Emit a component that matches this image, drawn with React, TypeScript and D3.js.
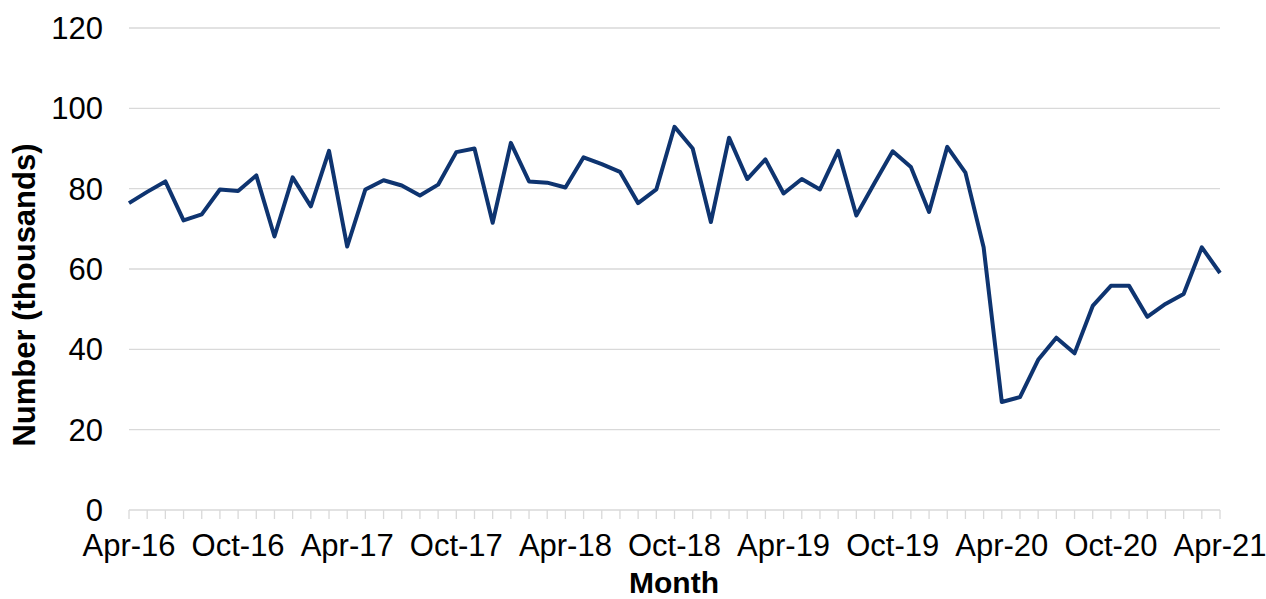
import React, { useRef, useEffect } from 'react';
import * as d3 from 'd3';

// monthly values, thousands (Apr-16 .. Apr-21)
const values = [
  76.4, 79.2, 81.8, 72.1, 73.6, 79.8, 79.4, 83.3, 68.1, 82.8, 75.6, 89.4,
  65.6, 79.8, 82.1, 80.8, 78.3, 81.0, 89.1, 90.0, 71.5, 91.4, 81.8, 81.5,
  80.3, 87.8, 86.1, 84.2, 76.4, 79.8, 95.4, 90.0, 71.7, 92.7, 82.4, 87.3,
  78.8, 82.4, 79.8, 89.4, 73.3, 81.4, 89.3, 85.4, 74.2, 90.4, 84.0, 65.4,
  26.9, 28.1, 37.4, 42.9, 39.0, 50.8, 55.8, 55.8, 48.1, 51.3, 53.8, 65.4,
  59.0,
];

const monthFmt = d3.timeFormat('%b-%y');
const months = d3.timeMonth
  .range(new Date(2016, 3, 1), new Date(2021, 4, 1))
  .map(d => monthFmt(d));

const xTickLabels = [
  'Apr-16', 'Oct-16', 'Apr-17', 'Oct-17', 'Apr-18', 'Oct-18',
  'Apr-19', 'Oct-19', 'Apr-20', 'Oct-20', 'Apr-21',
];
const yTicks = [0, 20, 40, 60, 80, 100, 120];

const width = 1266;
const height = 599;

const App = () => {
  const ref = useRef<SVGSVGElement>(null);

  useEffect(() => {
    const svg = d3.select(ref.current);
    svg.selectAll('*').remove();

    const font = '"Liberation Sans", Arial, sans-serif';
    const x = d3.scalePoint<string>().domain(months).range([129, 1220]).padding(0);
    const y = d3.scaleLinear().domain([0, 120]).range([510, 28]);

    // grid lines
    svg.append('g')
      .selectAll('line')
      .data(yTicks.filter(d => d > 0))
      .enter()
      .append('line')
      .attr('x1', 129)
      .attr('x2', 1220)
      .attr('y1', d => y(d))
      .attr('y2', d => y(d))
      .attr('stroke', '#d9d9d9')
      .attr('stroke-width', 1.3);

    // x axis line + monthly tick marks
    svg.append('line')
      .attr('x1', 129)
      .attr('x2', 1220)
      .attr('y1', y(0))
      .attr('y2', y(0))
      .attr('stroke', '#d9d9d9')
      .attr('stroke-width', 1.3);

    svg.append('g')
      .selectAll('line')
      .data(months)
      .enter()
      .append('line')
      .attr('x1', d => x(d)!)
      .attr('x2', d => x(d)!)
      .attr('y1', y(0))
      .attr('y2', y(0) + 9)
      .attr('stroke', '#d9d9d9')
      .attr('stroke-width', 1.3);

    // y tick labels
    svg.append('g')
      .selectAll('text')
      .data(yTicks)
      .enter()
      .append('text')
      .attr('x', 103)
      .attr('y', d => y(d))
      .attr('dy', '0.36em')
      .attr('text-anchor', 'end')
      .attr('font-family', font)
      .attr('font-size', 31)
      .attr('fill', '#000')
      .text(d => d);

    // x tick labels
    svg.append('g')
      .selectAll('text')
      .data(xTickLabels)
      .enter()
      .append('text')
      .attr('x', d => x(d)!)
      .attr('y', 556)
      .attr('text-anchor', 'middle')
      .attr('font-family', font)
      .attr('font-size', 31)
      .attr('fill', '#000')
      .text(d => d);

    // axis titles
    svg.append('text')
      .attr('x', 674)
      .attr('y', 593)
      .attr('text-anchor', 'middle')
      .attr('font-family', font)
      .attr('font-size', 30)
      .attr('font-weight', 'bold')
      .attr('fill', '#000')
      .text('Month');

    svg.append('text')
      .attr('transform', 'translate(35,295) rotate(-90)')
      .attr('text-anchor', 'middle')
      .attr('font-family', font)
      .attr('font-size', 31)
      .attr('font-weight', 'bold')
      .attr('fill', '#000')
      .text('Number (thousands)');

    // series line
    const line = d3.line<number>()
      .x((_, i) => x(months[i])!)
      .y(d => y(d));

    svg.append('path')
      .datum(values)
      .attr('fill', 'none')
      .attr('stroke', '#0e3470')
      .attr('stroke-width', 4)
      .attr('stroke-linejoin', 'round')
      .attr('d', line);
  }, []);

  return (
    <svg
      ref={ref}
      width={width}
      height={height}
      style={{ position: 'absolute', left: 0, top: 0, background: '#fff' }}
    />
  );
};

export default App;
